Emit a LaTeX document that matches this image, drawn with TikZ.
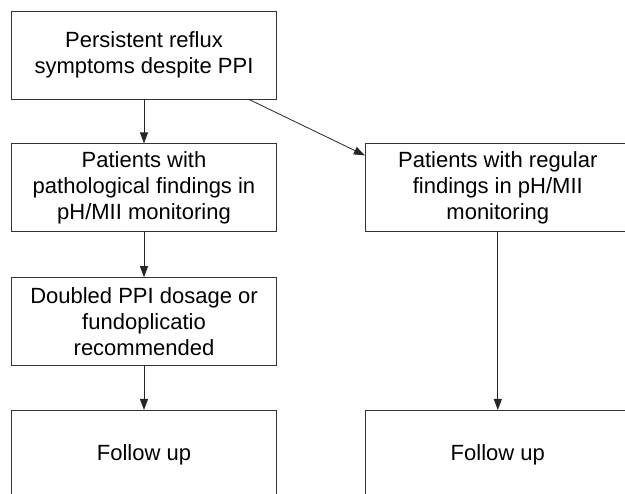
\documentclass[tikz,border=0pt]{standalone}
\usepackage{fontspec}
\setmainfont{Liberation Sans}
\usetikzlibrary{positioning,arrows.meta}

\begin{document}
\begin{tikzpicture}[
	flowbox/.style={rectangle, draw=black!80, line width=0.8pt, minimum width=265pt, minimum height=88pt, align=center, font=\fontsize{22pt}{26pt}\selectfont, inner sep=0pt},
	flowarrow/.style={-{Triangle[length=11pt,width=8pt]}, draw=black!85, line width=0.8pt},
	node distance=44pt,
	]
	\useasboundingbox (0,0) rectangle (625pt,-494pt);
	\clip (0,0) rectangle (625pt,-494pt);
	%Nodes
	\node[flowbox]      (persist)   at (144pt,-55pt)       {Persistent reflux\\symptoms despite PPI};
	\node[flowbox]      (patho)     [below=of persist]     {Patients with\\pathological findings in\\pH/MII monitoring};
	\node[flowbox]      (doubled)   [below=45pt of patho]  {Doubled PPI dosage or\\fundoplicatio\\recommended};
	\node[flowbox]      (followl)   [below=of doubled]     {Follow up};
	\node[flowbox]      (regular)   [right=88pt of patho]  {Patients with regular\\findings in pH/MII\\monitoring};
	\node[flowbox]      (followr)   [right=88pt of followl] {Follow up};
	
	%Lines
	\draw[flowarrow] (persist) -- (patho);
	\draw[flowarrow] ([xshift=-28pt]persist.south east) -- ([yshift=-12pt]regular.north west);
	\draw[flowarrow] (patho) -- (doubled);
	\draw[flowarrow] (doubled) -- (followl);
	\draw[flowarrow] (regular) -- (followr);
\end{tikzpicture}
\end{document}
